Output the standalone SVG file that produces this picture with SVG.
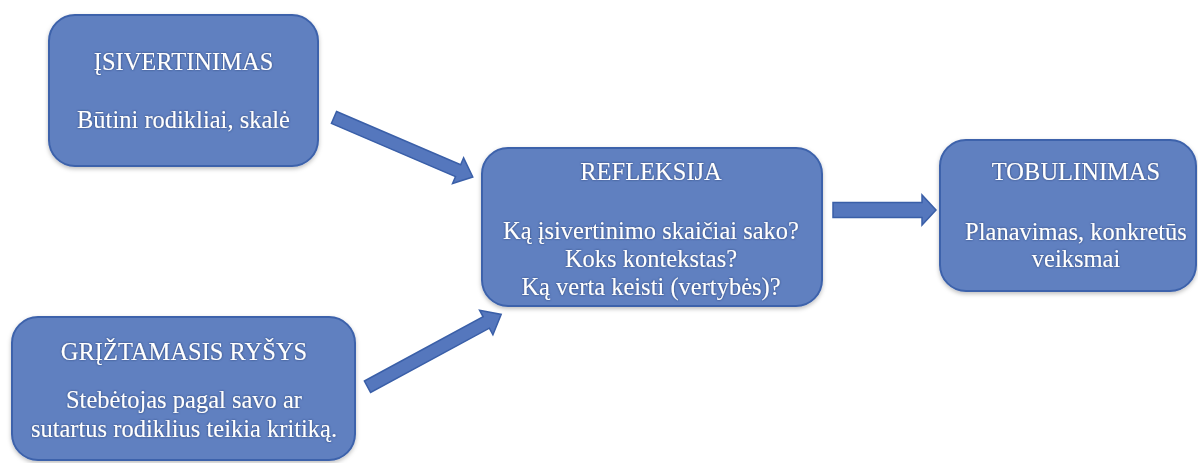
<svg xmlns="http://www.w3.org/2000/svg" width="1198" height="463" viewBox="0 0 1198 463">
<style>
.box{fill:#6080c0;stroke:#3d62ab;stroke-width:2}
.arr{fill:#5577bd;stroke:#3a5fa8;stroke-width:1.5;stroke-linejoin:miter}
text{font-family:"Liberation Serif","Times New Roman",serif;font-size:24.5px;fill:#ffffff;text-anchor:middle}
</style>
<defs>
<filter id="ts" x="-10%" y="-30%" width="120%" height="160%">
<feGaussianBlur in="SourceAlpha" stdDeviation="1.3" result="b"/>
<feFlood flood-color="#1f3566" flood-opacity="0.85"/>
<feComposite in2="b" operator="in" result="s"/>
<feMerge><feMergeNode in="s"/><feMergeNode in="SourceGraphic"/></feMerge>
</filter>
<filter id="bs" x="-10%" y="-10%" width="120%" height="125%">
<feDropShadow dx="0" dy="2" stdDeviation="2" flood-color="#000" flood-opacity="0.25"/>
</filter>
</defs>
<rect width="1198" height="463" fill="#ffffff"/>
<g id="connectors">
<polygon class="arr" points="0,-6.5 135,-6.5 135,-14 151,0 135,14 135,6.5 0,6.5" transform="translate(334,117.5) rotate(23.2)"/>
<polygon class="arr" points="0,-6.5 135,-6.5 135,-14 152,0 135,14 135,6.5 0,6.5" transform="translate(367.5,386.7) rotate(-28.4)"/>
<polygon class="arr" points="833,202.5 922,202.5 922,195 936,210 922,225 922,217.5 833,217.5"/>
</g>
<g id="isivertinimas">
<rect class="box" filter="url(#bs)" x="49" y="15" width="269" height="151" rx="26"/>
<g filter="url(#ts)">
<text x="183.5" y="70">ĮSIVERTINIMAS</text>
<text x="183.5" y="128">Būtini rodikliai, skalė</text>
</g>
</g>
<g id="refleksija">
<rect class="box" filter="url(#bs)" x="482" y="148" width="340" height="158" rx="26"/>
<g filter="url(#ts)">
<text x="651" y="180">REFLEKSIJA</text>
<text x="651" y="239">Ką įsivertinimo skaičiai sako?</text>
<text x="651" y="267">Koks kontekstas?</text>
<text x="651" y="295">Ką verta keisti (vertybės)?</text>
</g>
</g>
<g id="tobulinimas">
<rect class="box" filter="url(#bs)" x="940" y="140" width="256" height="151" rx="26"/>
<g filter="url(#ts)">
<text x="1076" y="180">TOBULINIMAS</text>
<text x="1076" y="240">Planavimas, konkretūs</text>
<text x="1076" y="267">veiksmai</text>
</g>
</g>
<g id="griztamasis">
<rect class="box" filter="url(#bs)" x="12" y="317" width="343" height="143" rx="26"/>
<g filter="url(#ts)">
<text x="184" y="360">GRĮŽTAMASIS RYŠYS</text>
<text x="184" y="408">Stebėtojas pagal savo ar</text>
<text x="184" y="437">sutartus rodiklius teikia kritiką.</text>
</g>
</g>
</svg>
